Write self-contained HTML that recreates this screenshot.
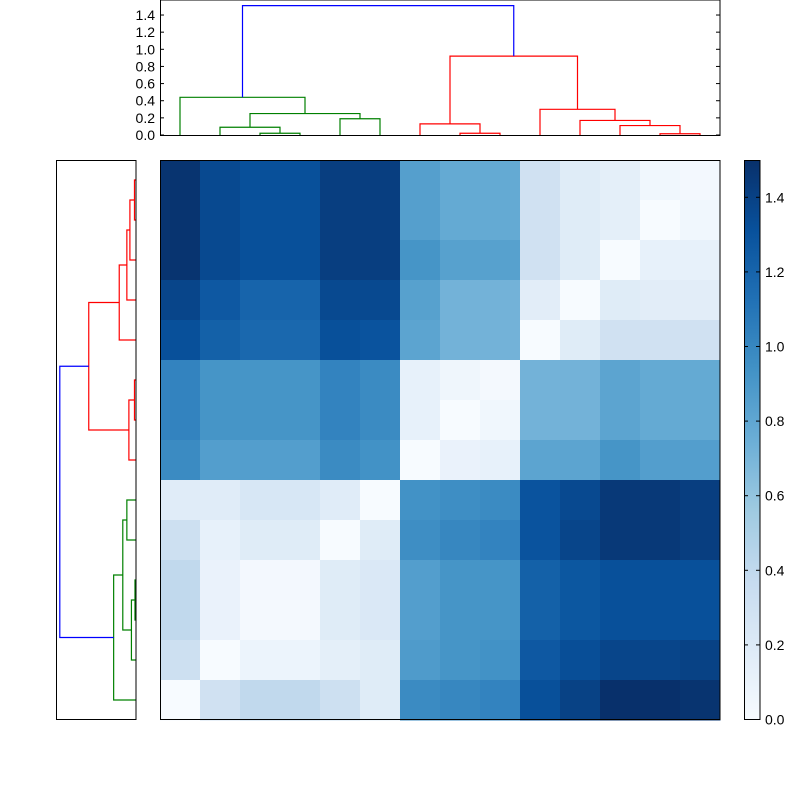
<!DOCTYPE html>
<html><head><meta charset="utf-8"><style>
body{margin:0;background:#fff;}
svg{display:block;font-family:"Liberation Sans",sans-serif;}
</style></head><body>
<svg id="chart" width="800" height="800" viewBox="0 0 800 800">
<rect x="0" y="0" width="800" height="800" fill="#fff"/>
<g id="topdendro"></g>
<g id="leftdendro"></g>
<g id="heat"></g>
<g id="cbar"></g>
</svg>
<script>
// linkage: [childA, childB, height], n=14 leaves
const nLeaves = 14;
const topLinkage = [[2,3,0.02],[1,14,0.09],[4,5,0.19],[15,16,0.25],[0,17,0.44],[7,8,0.02],[6,19,0.13],[12,13,0.015],[11,21,0.11],[10,22,0.17],[9,23,0.30],[20,24,0.92],[18,25,1.51]];
const topColors = ["green","green","green","green","green","red","red","red","red","red","red","red","blue"];
const leftLinkage = [[0,1,0.03],[2,14,0.12],[3,15,0.18],[4,16,0.33],[5,6,0.03],[7,18,0.14],[17,19,0.93],[8,9,0.18],[10,11,0.02],[12,22,0.09],[21,23,0.26],[13,24,0.44],[20,25,1.50]];
const leftColors = ["red","red","red","red","red","red","red","green","green","green","green","green","blue"];
const topTicks = [0.0,0.2,0.4,0.6,0.8,1.0,1.2,1.4];
const cbarTicks = [0.0,0.2,0.4,0.6,0.8,1.0,1.2,1.4];
const matrix = [
[1.48,1.36,1.32,1.32,1.42,1.42,0.85,0.78,0.78,0.30,0.18,0.14,0.05,0.03],
[1.48,1.36,1.32,1.32,1.42,1.42,0.85,0.78,0.78,0.30,0.18,0.14,0.00,0.05],
[1.48,1.36,1.32,1.32,1.42,1.42,0.92,0.84,0.84,0.30,0.18,0.00,0.12,0.12],
[1.38,1.27,1.20,1.20,1.36,1.36,0.84,0.72,0.72,0.16,0.00,0.18,0.16,0.16],
[1.32,1.22,1.18,1.18,1.32,1.30,0.82,0.72,0.72,0.00,0.18,0.30,0.30,0.30],
[1.02,0.92,0.92,0.92,1.02,0.98,0.12,0.06,0.02,0.72,0.72,0.82,0.78,0.78],
[1.02,0.92,0.92,0.92,1.02,0.98,0.12,0.00,0.05,0.72,0.72,0.82,0.78,0.78],
[0.98,0.86,0.86,0.86,0.98,0.94,0.00,0.10,0.12,0.82,0.82,0.92,0.86,0.86],
[0.17,0.17,0.24,0.24,0.17,0.00,0.94,0.96,0.98,1.30,1.36,1.45,1.45,1.42],
[0.32,0.12,0.18,0.18,0.00,0.18,0.96,1.00,1.02,1.30,1.38,1.45,1.45,1.42],
[0.40,0.10,0.03,0.03,0.18,0.22,0.86,0.92,0.92,1.22,1.28,1.32,1.32,1.32],
[0.40,0.10,0.02,0.02,0.18,0.22,0.86,0.92,0.92,1.22,1.28,1.32,1.32,1.32],
[0.32,0.00,0.08,0.08,0.14,0.18,0.88,0.92,0.94,1.27,1.33,1.38,1.38,1.40],
[0.00,0.30,0.40,0.40,0.32,0.18,0.98,1.00,1.02,1.32,1.40,1.50,1.50,1.48]];
const vmax = 1.5;

const NS="http://www.w3.org/2000/svg";
function mk(tag,attrs,parent){const e=document.createElementNS(NS,tag);for(const k in attrs)e.setAttribute(k,attrs[k]);parent.appendChild(e);return e;}
const blues=[[247,251,255],[222,235,247],[198,219,239],[158,202,225],[107,174,214],[66,146,198],[33,113,181],[8,81,156],[8,48,107]];
function cmap(v){let t=Math.max(0,Math.min(1,v/vmax))*8;let i=Math.min(7,Math.floor(t));let f=t-i;const a=blues[i],b=blues[i+1];return `rgb(${a.map((c,k)=>Math.round(c+(b[k]-c)*f)).join(',')})`;}

const tX=i=>180+40*i, tY=h=>135-h*85.7;
const lY=i=>180+40*i, lX=h=>136-h*50.8;
const colorMap={green:"#008000",red:"#ff0000",blue:"#0000ff"};
function layout(link){const pos=[],ht=[];for(let i=0;i<nLeaves;i++){pos[i]=i;ht[i]=0;}link.forEach((l,k)=>{pos[nLeaves+k]=(pos[l[0]]+pos[l[1]])/2;ht[nLeaves+k]=l[2];});return {pos,ht};}

const topG=document.getElementById('topdendro');
{const {pos,ht}=layout(topLinkage);
topLinkage.forEach((l,k)=>{const xa=tX(pos[l[0]]),xb=tX(pos[l[1]]);const y=tY(l[2]);
const p=mk('polyline',{points:`${xa},${tY(ht[l[0]])} ${xa},${y} ${xb},${y} ${xb},${tY(ht[l[1]])}`,fill:'none',stroke:colorMap[topColors[k]],'stroke-width':1.2},topG);

});
const fr=mk('rect',{x:160.5,y:0,width:559.5,height:135.5,fill:'none',stroke:'#000','stroke-width':1},topG);


topTicks.forEach(v=>{const y=tY(v);
mk('line',{x1:160,x2:164,y1:y,y2:y,stroke:'#000'},topG);mk('line',{x1:716,x2:720,y1:y,y2:y,stroke:'#000'},topG);
const t=mk('text',{x:155,y:y+5,'text-anchor':'end','font-size':14},topG);t.textContent=v.toFixed(1);

});}

const leftG=document.getElementById('leftdendro');
{const {pos,ht}=layout(leftLinkage);
leftLinkage.forEach((l,k)=>{const ya=lY(pos[l[0]]),yb=lY(pos[l[1]]);const x=lX(l[2]);
const p=mk('polyline',{points:`${lX(ht[l[0]])},${ya} ${x},${ya} ${x},${yb} ${lX(ht[l[1]])},${yb}`,fill:'none',stroke:colorMap[leftColors[k]],'stroke-width':1.2},leftG);

});
const fr=mk('rect',{x:56.5,y:160.5,width:79.5,height:559,fill:'none',stroke:'#000'},leftG);

}

const heat=document.getElementById('heat');
matrix.forEach((row,r)=>row.forEach((v,c)=>{
const e=mk('rect',{x:160+c*40,y:160+r*40,width:40.5,height:40.5,fill:cmap(v)},heat);

}));
{const fr=mk('rect',{x:160.5,y:160.5,width:559.5,height:559,fill:'none',stroke:'#000'},heat);

}

const cb=document.getElementById('cbar');
const cY=v=>719.5-v*(559.5/vmax);
{const defs=mk('defs',{},cb);const g=mk('linearGradient',{id:'bg',x1:0,y1:1,x2:0,y2:0},defs);
blues.forEach((c,i)=>mk('stop',{offset:i/8,'stop-color':`rgb(${c.join(',')})`},g));
const r=mk('rect',{x:744.5,y:160.5,width:15.5,height:559,fill:'url(#bg)',stroke:'#000'},cb);


cbarTicks.forEach(v=>{const y=cY(v);
mk('line',{x1:744,x2:748,y1:y,y2:y,stroke:'#000'},cb);mk('line',{x1:756,x2:760,y1:y,y2:y,stroke:'#000'},cb);
const t=mk('text',{x:765,y:y+5,'font-size':14},cb);t.textContent=v.toFixed(1);

});}
</script>
</body></html>
